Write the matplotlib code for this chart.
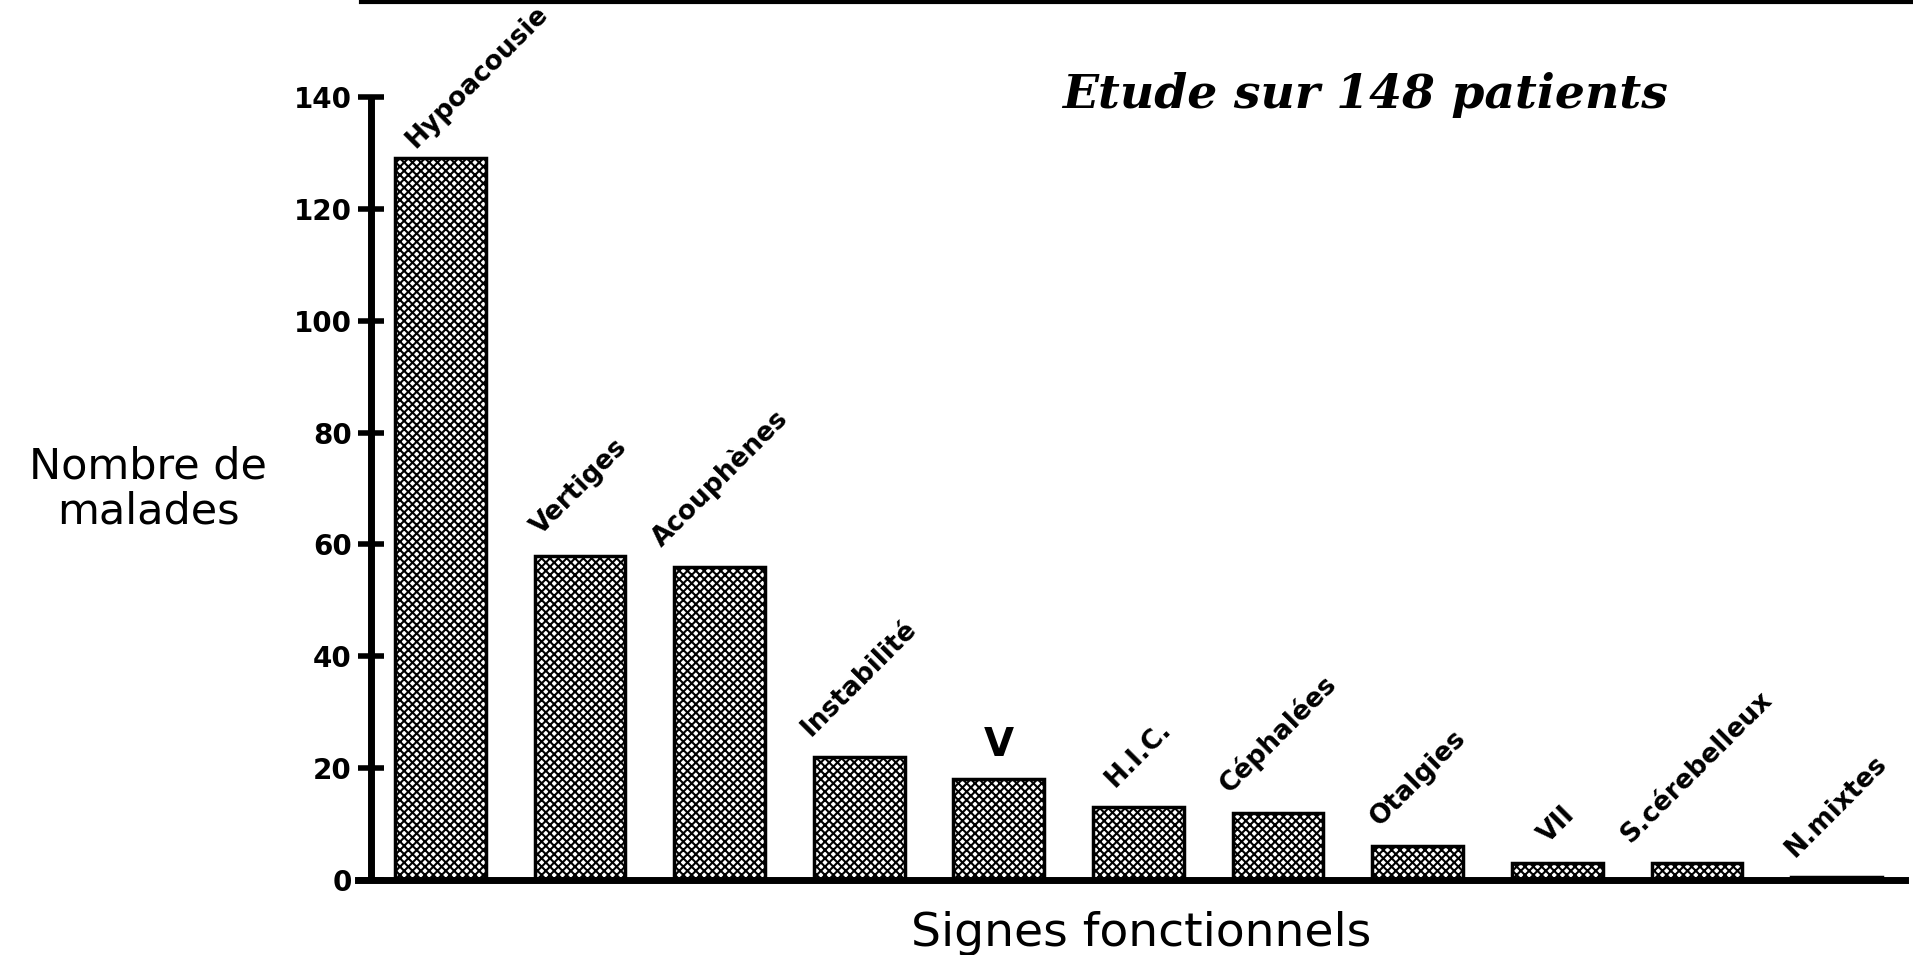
import matplotlib.pyplot as plt
from matplotlib.lines import Line2D

plt.rcParams['font.family'] = ['DejaVu Sans']
plt.rcParams['hatch.linewidth'] = 1.5
plt.rcParams['hatch.color'] = 'black'

# données
signes = ['Hypoacousie', 'Vertiges', 'Acouphènes', 'Instabilité', 'V', 'H.I.C.',
          'Céphalées', 'Otalgies', 'VII', 'S.cérebelleux', 'N.mixtes']
malades = [129, 58, 56, 22, 18, 13, 12, 6, 3, 3, 0.5]
yticks = [0, 20, 40, 60, 80, 100, 120, 140]
titre = 'Etude sur 148 patients'

fig = plt.figure(figsize=(19.13, 9.55), dpi=100)
ax = fig.add_axes([358 / 1913, 0.0785, 1547 / 1913, 0.820])

# axes d'abord (set_position remet les ticks à zéro)
for s in ['top', 'right']:
    ax.spines[s].set_visible(False)
ax.spines['left'].set_position(('data', -0.5))
ax.spines['left'].set_linewidth(5)
ax.spines['bottom'].set_linewidth(5)
ax.spines['left'].set_capstyle('butt')

x = list(range(len(signes)))
ax.bar(x, malades, width=0.65, color='white', edgecolor='black',
       linewidth=2.5, hatch='xxxx', zorder=2)

# étiquettes des barres
for i, (nom, val) in enumerate(zip(signes, malades)):
    if nom == 'V':
        ax.annotate(nom, (i, val), xytext=(0, 17), textcoords='offset points',
                    ha='center', va='baseline', fontsize=28, fontweight='bold')
        continue
    dx, dy = (27, 4) if i == 0 else (0, 11)
    ax.annotate(nom, (i, val), xytext=(dx, dy), textcoords='offset points',
                ha='center', va='bottom', rotation=45, fontsize=19,
                fontweight='bold')

ax.set_xlim(-0.59, len(signes) - 0.51)
ax.set_ylim(0, 140)
ax.set_xticks([])
ax.set_yticks(yticks)
ax.set_yticklabels([str(t) for t in yticks], fontsize=20, fontweight='bold')
ax.tick_params(axis='y', direction='inout', length=19, width=4, pad=4)

fig.text(148 / 1913, 1 - 489 / 955, 'Nombre de\nmalades', ha='center',
         va='center', fontsize=31, linespacing=1.1)
fig.text(1141 / 1913, 1 - 933 / 955, 'Signes fonctionnels', ha='center',
         va='center', fontsize=34)
fig.text(1365 / 1913, 1 - 95 / 955, titre, ha='center', va='center',
         fontsize=34, family='DejaVu Serif', style='italic', fontweight='bold')

# trait en haut de la page
fig.add_artist(Line2D([361 / 1913, 1], [1 - 2 / 955, 1 - 2 / 955],
                      transform=fig.transFigure, color='black', linewidth=3))

fig.savefig('out.png', dpi=100)
